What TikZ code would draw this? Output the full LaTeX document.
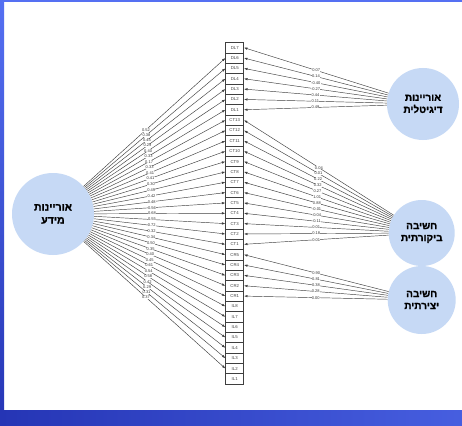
\documentclass[tikz,border=0pt]{standalone}
\usepackage{fontspec}
\setsansfont{Liberation Sans}
\newfontfamily\hebfont[Script=Hebrew,BoldFont={Liberation Sans Bold},BoldFeatures={FakeBold=1.5}]{Liberation Sans}
\TeXXeTstate=1
\usetikzlibrary{arrows.meta}
\definecolor{factorfill}{HTML}{C6D9F5}
\definecolor{edgegray}{HTML}{3F3F3F}
\definecolor{bandlight}{HTML}{5570F2}
\definecolor{banddark}{HTML}{2535B5}
\newcommand{\heb}[1]{\beginR #1\endR}

\begin{document}
\begin{tikzpicture}[x=1pt,y=-1pt,
	item/.style={draw=edgegray,line width=0.55pt,minimum width=18pt,minimum height=10.35pt,inner sep=0pt,font=\sffamily\fontsize{4.3}{5}\selectfont,text=black!75},
	factor/.style={circle,fill=factorfill,inner sep=0pt,align=center,font=\hebfont\bfseries\fontsize{10}{12}\selectfont},
	load/.style={->,>={Latex[length=3.5pt,width=2.4pt]},draw=edgegray,line width=0.45pt},
	lab/.style={fill=white,inner sep=0.2pt,font=\sffamily\fontsize{4}{4.5}\selectfont,text=black!80}
]
%\draw[help lines] (0,0) grid[step=20] (462,425);
	\useasboundingbox (0,0) rectangle (462,425);
	\fill[white] (0,0) rectangle (462,425);
	\shade[top color=bandlight,bottom color=banddark] (0,0) rectangle (4,425);
	\fill[bandlight] (0,0) rectangle (462,2);
	\shade[left color=banddark,right color=bandlight!70!banddark] (0,410) rectangle (462,425);

	% indicators
	\foreach \n [count=\i] in {DL7,DL6,DL5,DL4,DL3,DL2,DL1,CT13,CT12,CT11,CT10,CT9,CT8,CT7,CT6,CT5,CT4,CT3,CT2,CT1,CR5,CR4,CR3,CR2,CR1,IL8,IL7,IL6,IL5,IL4,IL3,IL2,IL1}
		\node[item] (\n) at (234.7,{42.5+10.35*(\i-0.5)}) {\n};

	% factors
	\node[factor,minimum size=82pt,font=\hebfont\bfseries\fontsize{10.5}{13}\selectfont] (mi) at (53,214) {\heb{אוריינות}\\\heb{מידע}};
	\node[factor,minimum size=72pt] (dl) at (423,104) {\heb{אוריינות}\\\heb{דיגיטלית}};
	\node[factor,minimum size=66pt] (ct) at (421.7,233) {\heb{חשיבה}\\\heb{ביקורתית}};
	\node[factor,minimum size=68pt] (cr) at (421.7,300) {\heb{חשיבה}\\\heb{יצירתית}};

	\foreach \n/\v in {DL6/0.52,DL5/0.38,DL4/0.45,DL3/0.29,DL2/0.40,DL1/0.33,CT13/0.17,CT12/0.33,CT11/0.41,CT10/0.41,CT9/0.30,CT8/0.49,CT7/0.42,CT6/0.48,CT5/0.56,CT4/0.68,CT3/0.55,CT2/0.72,CT1/0.32,CR5/0.34,CR4/0.50,CR3/0.35,CR2/0.40,CR1/0.45,IL8/0.61,IL7/0.54,IL6/0.58,IL5/0.42,IL4/0.29,IL3/0.31,IL2/0.37}
		\draw[load] (mi) -- (\n.west) node[lab,pos=0.44] {\v};

	\foreach \n/\v in {DL7/0.07,DL6/0.14,DL5/-0.40,DL4/-0.27,DL3/0.44,DL2/0.11,DL1/0.49}
		\draw[load] (dl) -- (\n.east) node[lab,pos=0.5] {\v};

	\foreach \n/\v in {CT13/0.04,CT12/0.01,CT11/0.22,CT10/0.32,CT9/0.27,CT8/1.01,CT7/0.88,CT6/-0.01,CT5/-0.04,CT4/-0.11,CT3/0.01,CT2/0.18,CT1/0.01}
		\draw[load] (ct) -- (\n.east) node[lab,pos=0.5] {\v};

	\foreach \n/\v in {CR5/0.90,CR4/0.81,CR3/0.38,CR2/0.28,CR1/0.00}
		\draw[load] (cr) -- (\n.east) node[lab,pos=0.5] {\v};
\end{tikzpicture}
\end{document}
